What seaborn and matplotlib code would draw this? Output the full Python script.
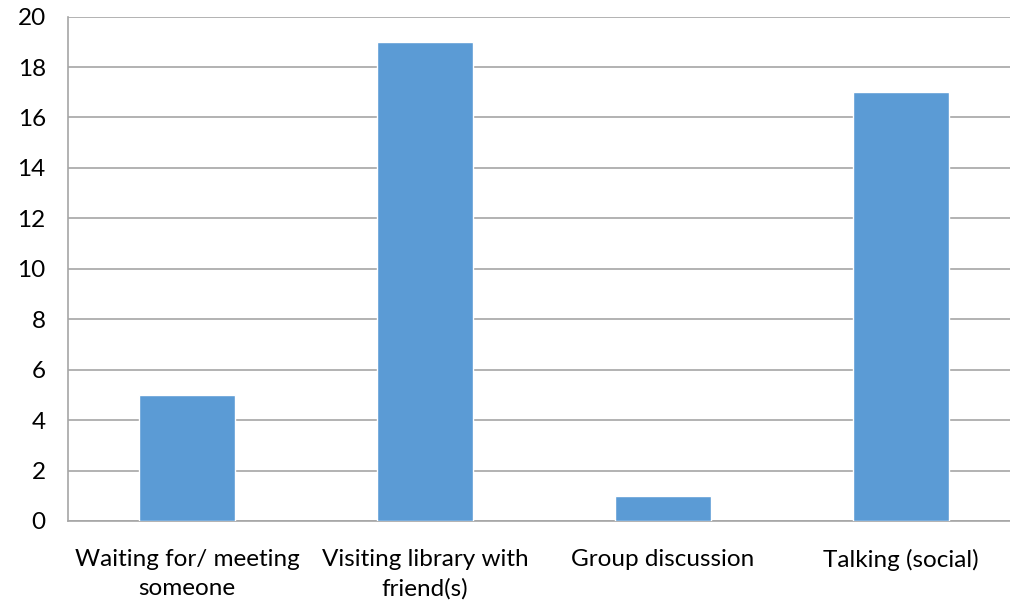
import matplotlib
matplotlib.use("Agg")
import matplotlib.pyplot as plt
import seaborn as sns
import pandas as pd

categories = ["Waiting for/ meeting\nsomeone", "Visiting library with\nfriend(s)",
              "Group discussion", "Talking (social)"]
counts = [5, 19, 1, 17]
y_ticks = [0, 2, 4, 6, 8, 10, 12, 14, 16, 18, 20]

sns.set_theme(style="white")
plt.rcParams["font.family"] = ["Lato", "DejaVu Sans"]

df = pd.DataFrame({"category": categories, "count": counts})

fig = plt.figure(figsize=(10.1, 6.0), dpi=100)
ax = fig.add_axes([0.0673, 0.1317, 0.9426, 0.8406])

sns.barplot(data=df, x="category", y="count", color="#5B9BD5", width=0.403,
            saturation=1, ax=ax, zorder=3)

ax.set_ylim(0, 20)
ax.set_yticks(y_ticks)
ax.set_xlim(-0.5, 3.5)
ax.yaxis.grid(True, color="#A6A6A6", linewidth=1.2, zorder=0)
ax.set_axisbelow(True)
ax.set_xlabel("")
ax.set_ylabel("")

for side in ["top", "right"]:
    ax.spines[side].set_visible(False)
for side in ["left", "bottom"]:
    ax.spines[side].set_color("#A6A6A6")
    ax.spines[side].set_linewidth(1.2)

ax.tick_params(axis="both", length=0, labelsize=17.5, colors="#000000")
ax.tick_params(axis="y", pad=16)
ax.tick_params(axis="x", pad=20)
for lbl in ax.get_xticklabels():
    lbl.set_linespacing(1.5)

fig.savefig("out.png", dpi=100, facecolor="white")
